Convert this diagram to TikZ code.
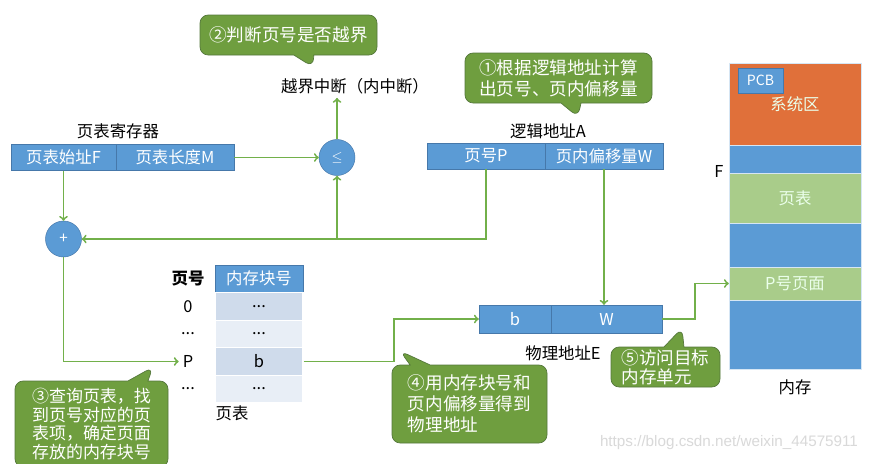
\documentclass[tikz,border=0pt]{standalone}
\usepackage{fontspec}
\setmainfont{Noto Sans CJK SC}
\newfontfamily\wmfont{Liberation Sans}
\usetikzlibrary{positioning}
\usetikzlibrary{arrows,shapes,shapes.callouts}
\usetikzlibrary{calc}

\definecolor{cellblue}{RGB}{91,155,213}
\definecolor{cellline}{RGB}{70,120,170}
\definecolor{sysorange}{RGB}{224,112,58}
\definecolor{pagegreen}{RGB}{169,204,138}
\definecolor{rowdark}{RGB}{207,219,235}
\definecolor{rowlight}{RGB}{232,238,246}
\definecolor{notegreen}{RGB}{111,158,63}
\definecolor{noteline}{RGB}{85,120,60}
\definecolor{flowgreen}{RGB}{114,176,74}

\def\pxl{0.03cm}
\def\dts{...}

\tikzset{
  cell/.style={draw=cellline, fill=cellblue, text=white, inner sep=0pt},
  row/.style={draw=white, line width=1pt, minimum width=88*\pxl, minimum height=27.5*\pxl, inner sep=0pt},
  memblk/.style={draw=white!75!cellblue, text=white!92!green, minimum width=132*\pxl, inner sep=0pt},
  opcircle/.style={circle, draw=cellline, fill=cellblue, text=white, minimum size=36*\pxl, inner sep=0pt, font=\fontsize{13}{15}\selectfont},
  flow/.style={->, line width=1.6pt, draw=flowgreen},
  note/.style={rectangle callout, rounded corners=7pt, fill=notegreen, draw=noteline, line width=0.6pt, text=white, align=left, inner sep=0pt, font=\fontsize{15}{18}\selectfont, callout pointer width=0.6cm}
}

\begin{document}
\begin{tikzpicture}[x=0.03cm, y=-0.03cm, font=\fontsize{14}{17}\selectfont]
  \useasboundingbox[fill=white] (0,0) rectangle (872,463);

 %step 2 and interrupt
  \node[note, minimum width=177*\pxl, minimum height=40*\pxl, callout absolute pointer={(313,67)}] (n2) at (288.5,35) {②判断页号是否越界};
  \node (intr) at (355,86) {越界中断（内中断）};

 %page table register
  \node (regname) at (118,131) {页表寄存器};
  \node[cell, minimum width=105*\pxl, minimum height=26*\pxl] (rF) at (63.5,157.5) {页表始址F};
  \node[cell, minimum width=118*\pxl, minimum height=26*\pxl] (rM) at (175,157.5) {页表长度M};

 %compare and add
  \node[opcircle] (cmp) at (337,157.5) {$\le$};
  \node[opcircle] (add) at (63.5,239) {+};

 %logical address
  \node (laname) at (548,131) {逻辑地址A};
  \node[cell, minimum width=118*\pxl, minimum height=26*\pxl] (lP) at (486,156) {页号P};
  \node[cell, minimum width=118*\pxl, minimum height=26*\pxl] (lW) at (604,156) {页内偏移量W};
  \node[note, minimum width=187*\pxl, minimum height=50*\pxl, callout absolute pointer={(578,117)}] (n1) at (558.5,78) {①根据逻辑地址计算\\出页号、页内偏移量};

 %page table
  \node (tnum) at (188,279) {\bfseries 页号};
  \node[cell, minimum width=88*\pxl, minimum height=27*\pxl] (thead) at (259,278.5) {内存块号};
    \foreach \i/\num/\pg/\name/\col in { 0/\dts/0/t0/rowdark, 1/\dts/\dts/t1/rowlight, 2/b/P/tb/rowdark, 3/\dts/\dts/t3/rowlight} {
         \node[row, fill=\col] (\name) at (259, 306.5+\i*27.5) {\num};
         \node (p\name) at (188, 306.5+\i*27.5) {\pg};
    }
  \node (tname) at (232,413) {页表};

 %physical address
  \node[cell, minimum width=72*\pxl, minimum height=28*\pxl] (eb) at (515,319) {b};
  \node[cell, minimum width=111*\pxl, minimum height=28*\pxl] (ew) at (606.5,319) {W};
  \node (ename) at (563,353) {物理地址E};

 %memory
    \foreach \name/\top/\bot/\col/\txt in { msys/63/145/sysorange/系统区, m1/145/173/cellblue/, mT/173/223/pagegreen/页表, m2/223/267/cellblue/, mP/267/300/pagegreen/P号页面, m3/300/369/cellblue/} {
         \node[memblk, fill=\col, minimum height={(\bot-\top)*\pxl}] (\name) at (795, {(\top+\bot)/2}) {\txt};
    }
  \node[cell, minimum width=45*\pxl, minimum height=25*\pxl, font=\fontsize{12}{14}\selectfont] (pcb) at (760.5,80.5) {PCB};
  \node (fF) at (719,171) {F};
  \node (memname) at (795,387) {内存};

 %arrows
  \draw[flow] (rF.south) -- (add.north);
  \draw[flow] (rM.east) -- (cmp.west);
  \draw[flow] (cmp.north) -- (cmp.north |- intr.south);
  \draw[flow] (lP.south) |- (add.east);
  \draw[flow] (cmp.south |- add.east) -- (cmp.south);
  \draw[flow] (add.south) |- (ptb.west);
  \draw[flow] (tb.east) -- ++(90,0) |- (eb.west);
  \draw[flow] (lW.south) -- (lW.south |- ew.north);
  \draw[flow] (ew.east) -- ++(33,0) |- (mP.west);

 %steps 3 to 5
  \node[note, minimum width=153*\pxl, minimum height=86*\pxl, font=\fontsize{14.5}{16.2}\selectfont, callout absolute pointer={(153,367)}] (n3) at (91.5,424) {③查询页表，找\\到页号对应的页\\表项，确定页面\\存放的内存块号};
  \node[note, minimum width=155*\pxl, minimum height=78*\pxl, callout absolute pointer={(400,351)}] (n4) at (469.5,404) {④用内存块号和\\页内偏移量得到\\物理地址};
  \node[note, minimum width=109*\pxl, minimum height=40*\pxl, font=\fontsize{15}{16}\selectfont, callout absolute pointer={(682,328)}] (n5) at (665.5,367) {⑤访问目标\\内存单元};

  \node[text=gray!30, font=\wmfont\fontsize{13}{15}\selectfont] (wm) at (729,443) {https://blog.csdn.net/weixin\_44575911};
\end{tikzpicture}
\end{document}
